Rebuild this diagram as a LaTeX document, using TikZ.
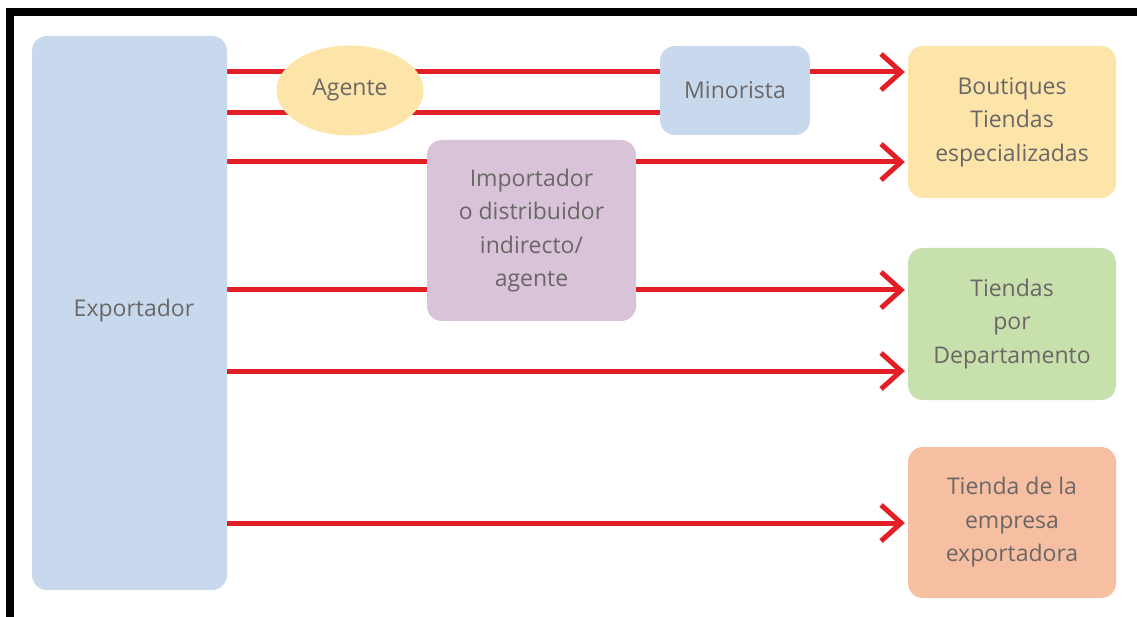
\documentclass[tikz,border=0pt]{standalone}
\usepackage{fontspec}
\setmainfont{Open Sans}
\usetikzlibrary{arrows.meta,shapes.geometric,backgrounds}
\definecolor{bluebox}{HTML}{C8D9EE}
\definecolor{yellowbox}{HTML}{FDE5AA}
\definecolor{purplebox}{HTML}{D8C3D8}
\definecolor{greenbox}{HTML}{C8E0AB}
\definecolor{salmonbox}{HTML}{F7BFA2}
\definecolor{redline}{HTML}{E21F26}
\definecolor{txt}{HTML}{6B6767}
\tikzset{
  box/.style={rounded corners=15pt, draw=none, align=center, inner sep=0pt,
    text=txt, font=\fontsize{23}{33.5}\selectfont},
  oval/.style={ellipse, draw=none, align=center, inner sep=0pt,
    text=txt, font=\fontsize{23}{33.5}\selectfont},
  flow/.style={draw=redline, line width=5pt},
  flowarrow/.style={flow, -{Straight Barb[length=20pt,width=36pt,line width=5pt]}, shorten >=3pt},
}
\begin{document}
\begin{tikzpicture}[x=1pt,y=-1pt]
\useasboundingbox (0,0) rectangle (1137,617);
\clip (0,0) rectangle (1137,617);

\node[box, fill=bluebox, minimum width=195pt, minimum height=554pt] (exp) at (129.5,313) {};
\node[txt, font=\fontsize{23}{33.5}\selectfont] (explabel) at (134,311) {Exportador};
\node[oval, fill=yellowbox, minimum width=147pt, minimum height=90pt] (ag) at (350,90.5) {Agente};
\node[box, fill=bluebox, minimum width=150pt, minimum height=89pt] (min) at (735,90.5) {Minorista};
\node[box, fill=purplebox, minimum width=209pt, minimum height=181pt] (imp) at (531.5,230.5) {Importador\\o distribuidor\\indirecto/\\agente};
\node[box, fill=yellowbox, minimum width=208pt, minimum height=152pt] (bout) at (1012,122) {Boutiques\\Tiendas\\especializadas};
\node[box, fill=greenbox, minimum width=208pt, minimum height=152pt] (dep) at (1012,324) {Tiendas\\por\\Departamento};
\node[box, fill=salmonbox, minimum width=208pt, minimum height=151pt] (emp) at (1012,522.5) {Tienda de la\\empresa\\exportadora};

\coordinate (r1) at (0,72);
\coordinate (r2) at (0,113);
\coordinate (r3) at (0,162);
\coordinate (r4) at (0,290);
\coordinate (r5) at (0,371);
\coordinate (r6) at (0,523);

\begin{scope}[on background layer]
\fill[white] (0,0) rectangle (1137,617);
\draw[line width=8pt, black] (10,12) rectangle (1160,640);
\draw[flow] (exp.east |- r1) -- (min.west |- r1);
\draw[flow] (exp.east |- r2) -- (min.west |- r2);
\draw[flow] (exp.east |- r3) -- (imp.west |- r3);
\draw[flow] (exp.east |- r4) -- (imp.west |- r4);
\end{scope}
\draw[flowarrow] (min.east |- r1) -- (bout.west |- r1);
\draw[flowarrow] (imp.east |- r3) -- (bout.west |- r3);
\draw[flowarrow] (imp.east |- r4) -- (dep.west |- r4);
\draw[flowarrow] (exp.east |- r5) -- (dep.west |- r5);
\draw[flowarrow] (exp.east |- r6) -- (emp.west |- r6);
\end{tikzpicture}
\end{document}
